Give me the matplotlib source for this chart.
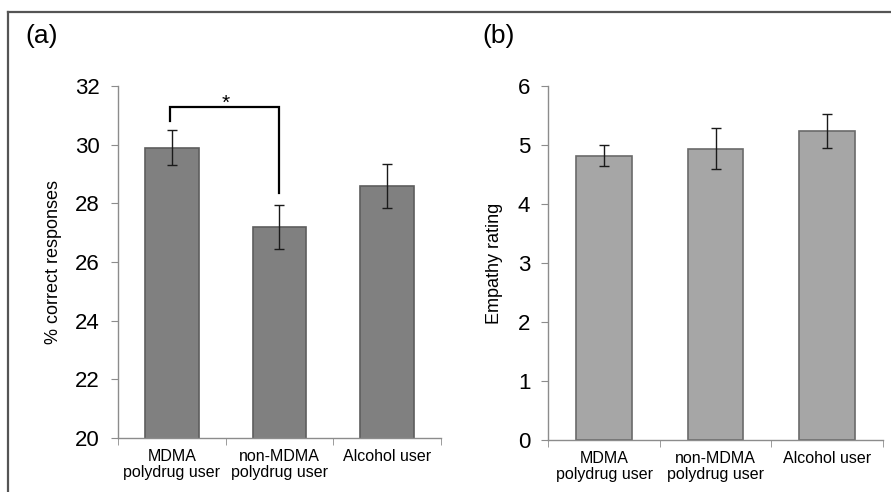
import matplotlib
matplotlib.use('Agg')
import matplotlib.pyplot as plt
from matplotlib.lines import Line2D
import numpy as np

plt.rcParams['font.family'] = ['Liberation Sans', 'DejaVu Sans']

# data
groups = ['MDMA\npolydrug user', 'non-MDMA\npolydrug user', 'Alcohol user']
correct_mean = [29.9, 27.2, 28.6]
correct_err = [0.6, 0.75, 0.75]
empathy_mean = [4.82, 4.94, 5.24]
empathy_err = [0.18, 0.35, 0.29]
sig_pair = (0, 1)
sig_y = [30.82, 31.3, 28.34]   # left drop, bracket top, right drop

fig = plt.figure(figsize=(8.91, 4.92), dpi=100)
axL = fig.add_axes([0.1324, 0.1098, 0.3625, 0.7154])
axR = fig.add_axes([0.6154, 0.1057, 0.3753, 0.7195])

x = np.arange(len(groups))
spine_col = '#8c8c8c'


def style(ax, ylim, yticks, ylabel, lab_x):
    ax.set_xlim(-0.5, len(groups) - 0.5)
    ax.set_ylim(*ylim)
    ax.set_yticks(yticks)
    ax.set_xticks(x)
    ax.set_xticklabels(groups, fontsize=11.5, linespacing=1.1)
    ax.set_xticks(np.arange(len(groups) + 1) - 0.5, minor=True)
    ax.tick_params(axis='x', which='major', length=0, pad=8)
    ax.tick_params(axis='x', which='minor', length=5, color=spine_col, direction='out')
    ax.tick_params(axis='y', length=5, color=spine_col, labelsize=16, pad=8)
    for s in ['top', 'right']:
        ax.spines[s].set_visible(False)
    for s in ['left', 'bottom']:
        ax.spines[s].set_color(spine_col)
        ax.spines[s].set_linewidth(1.0)
    ax.set_ylabel(ylabel, fontsize=13)
    ax.yaxis.set_label_coords(lab_x, 0.5)


axL.bar(x, correct_mean, width=0.5, bottom=0, color='#808080', edgecolor='#5e5e5e',
        linewidth=1.2, zorder=2)
axL.errorbar(x, correct_mean, yerr=correct_err, fmt='none', ecolor='#1a1a1a',
             elinewidth=1.0, capsize=3.8, capthick=1.0, zorder=3)
style(axL, (20, 32), [20, 22, 24, 26, 28, 30, 32], '% correct responses', -0.173)

# significance bracket
i0, i1 = sig_pair
axL.plot([i0 - 0.015, i0 - 0.015, i1, i1], [sig_y[0], sig_y[1], sig_y[1], sig_y[2]],
         color='black', lw=1.6, solid_joinstyle='miter', clip_on=False, zorder=4)
axL.text((i0 + i1) / 2, sig_y[1] - 0.08, '*', ha='center', va='baseline', fontsize=15)

axR.bar(x, empathy_mean, width=0.5, color='#a6a6a6', edgecolor='#6a6a6a',
        linewidth=1.2, zorder=2)
axR.errorbar(x, empathy_mean, yerr=empathy_err, fmt='none', ecolor='#1a1a1a',
             elinewidth=1.0, capsize=3.8, capthick=1.0, zorder=3)
style(axR, (0, 6), [0, 1, 2, 3, 4, 5, 6], 'Empathy rating', -0.135)

fig.text(0.047, 0.927, '(a)', fontsize=19, ha='center', va='center')
fig.text(0.559, 0.927, '(b)', fontsize=19, ha='center', va='center')

# partial outer frame (top and left edges)
frame_y = 1 - 12 / 492
frame_x = 8 / 891
fig.add_artist(Line2D([frame_x, 1], [frame_y, frame_y], color='#555555', lw=1.6,
                      transform=fig.transFigure))
fig.add_artist(Line2D([frame_x, frame_x], [0, frame_y], color='#555555', lw=1.6,
                      transform=fig.transFigure))

fig.savefig('out.png', dpi=100)
